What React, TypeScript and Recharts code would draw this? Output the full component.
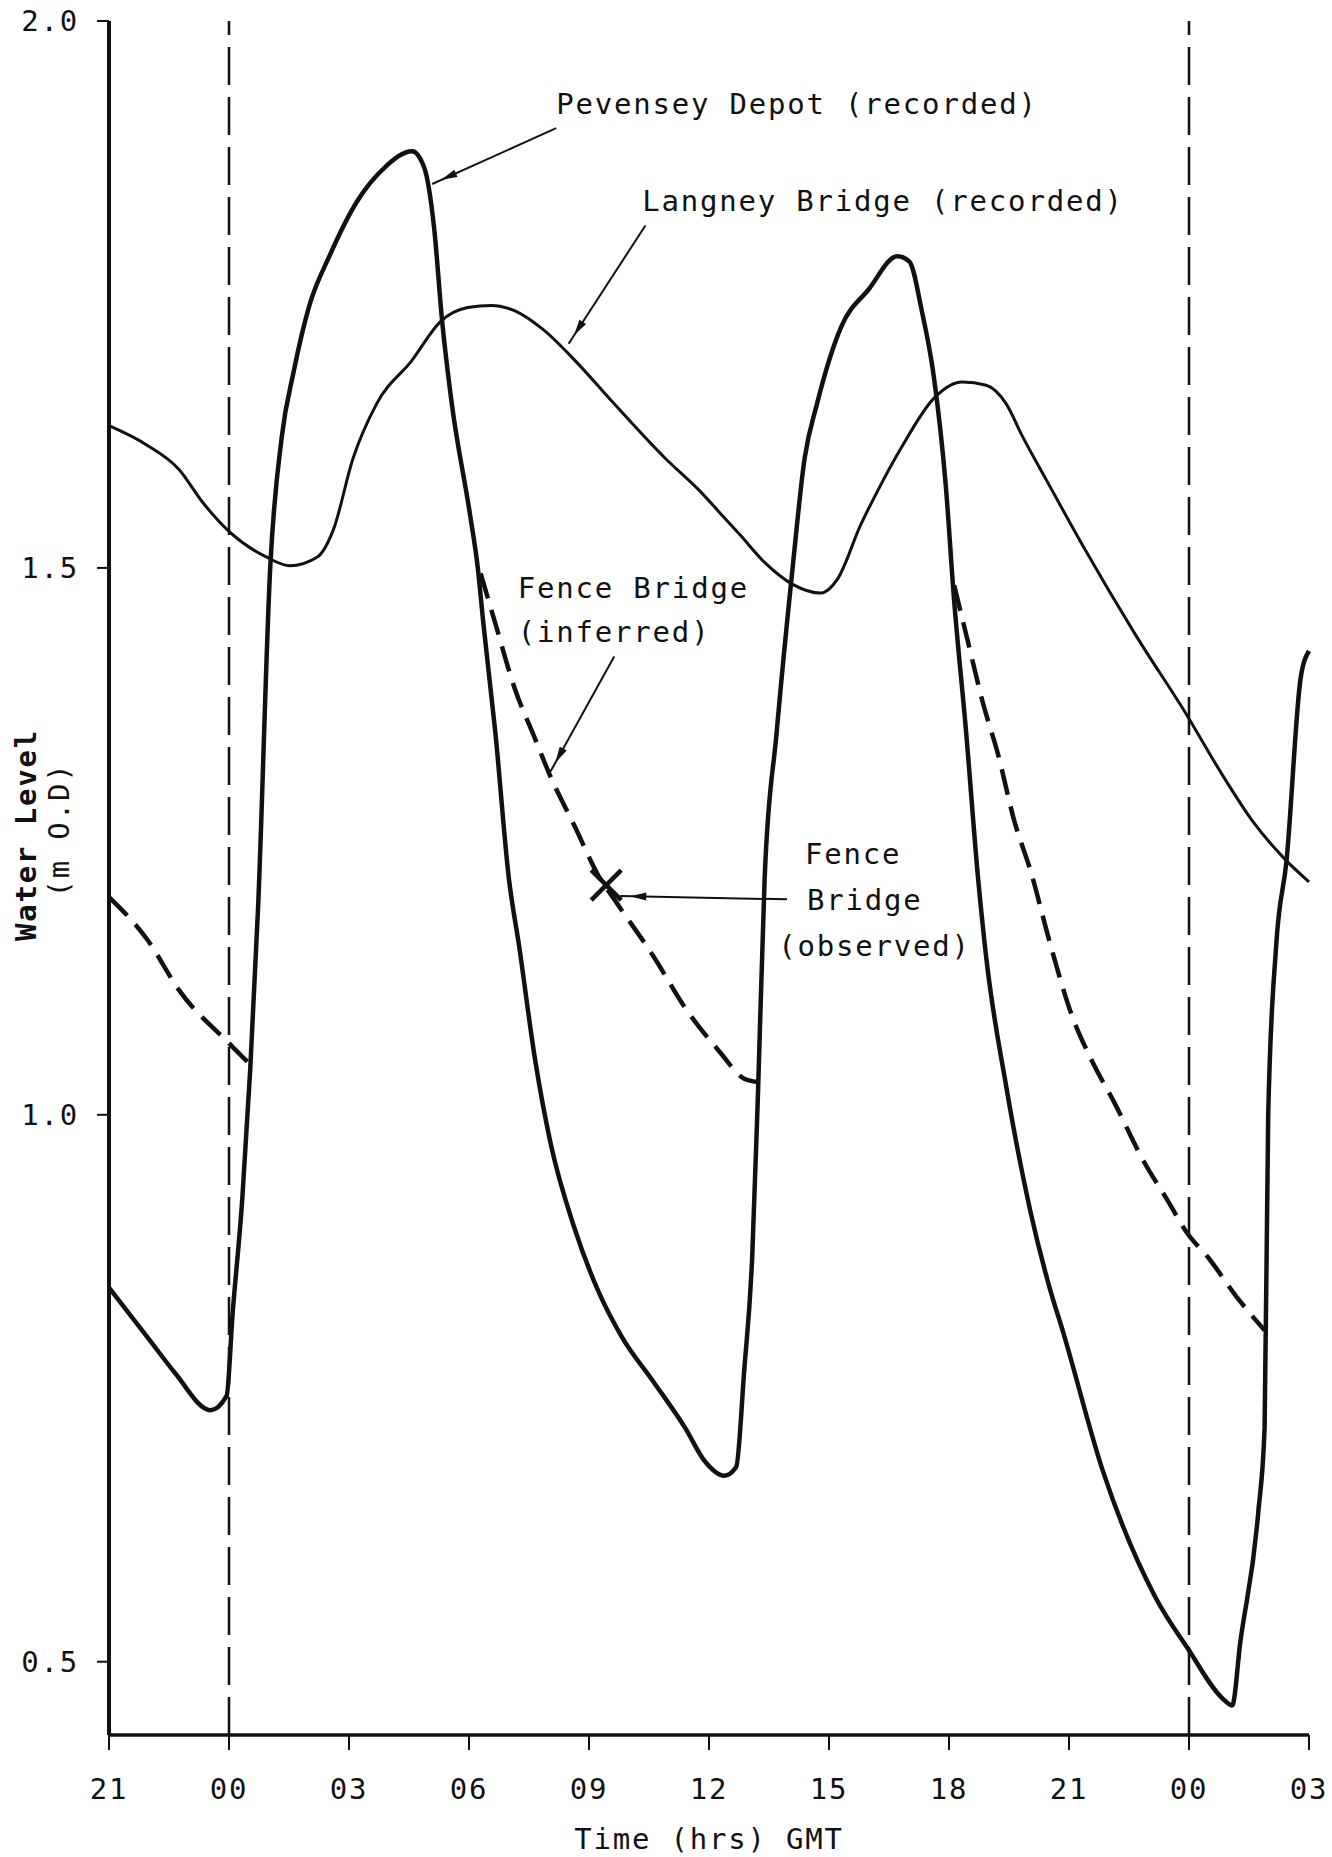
import React from 'react';
import {
  ComposedChart,
  Line,
  Scatter,
  XAxis,
  YAxis,
  ReferenceLine,
  ReferenceDot,
} from 'recharts';

// hours after 21:00 on the first day, water level in m O.D.
const pevenseyDepot: [number, number][] = [
  [0, 0.842], [1.06, 0.792], [1.65, 0.764], [2.54, 0.73], [2.94, 0.743], [3.09, 0.818],
  [3.33, 0.922], [3.53, 1.041], [3.73, 1.192], [4.03, 1.5], [4.32, 1.62], [4.62, 1.68],
  [5.01, 1.74], [5.51, 1.785], [6.2, 1.835], [6.89, 1.866], [7.58, 1.881], [7.88, 1.866],
  [8.13, 1.81], [8.33, 1.725], [8.57, 1.65], [9.02, 1.55], [9.22, 1.5], [9.36, 1.449],
  [9.66, 1.349], [10.0, 1.215], [10.25, 1.155], [10.65, 1.051], [11.04, 0.974], [11.64, 0.896],
  [12.23, 0.839], [12.82, 0.797], [13.61, 0.756], [14.4, 0.714], [14.9, 0.683], [15.38, 0.67],
  [15.68, 0.678], [15.88, 0.766], [16.08, 0.87], [16.23, 1.026], [16.39, 1.215], [16.69, 1.349],
  [17.09, 1.5], [17.39, 1.6], [17.7, 1.65], [18.3, 1.72], [19.0, 1.755], [19.71, 1.785],
  [20.01, 1.78], [20.32, 1.735], [20.62, 1.675], [20.92, 1.575], [21.12, 1.474], [21.43, 1.349],
  [21.73, 1.215], [21.93, 1.144], [22.43, 1.026], [23.04, 0.911], [23.53, 0.84], [23.84, 0.803],
  [24.85, 0.674], [26.16, 0.559], [26.97, 0.512], [27.88, 0.465], [28.08, 0.46], [28.28, 0.517],
  [28.73, 0.636], [28.89, 0.714], [28.98, 1.0], [29.18, 1.155], [29.44, 1.233], [29.79, 1.399],
  [30.0, 1.424],
];

const langneyBridge: [number, number][] = [
  [0, 1.63], [0.96, 1.612], [1.75, 1.59], [2.34, 1.56], [3.04, 1.532], [3.93, 1.51],
  [4.52, 1.502], [5.21, 1.51], [5.61, 1.535], [6.1, 1.6], [6.69, 1.65], [7.58, 1.69],
  [8.28, 1.725], [8.97, 1.738], [9.56, 1.74], [10.15, 1.735], [10.85, 1.718], [11.64, 1.69],
  [12.63, 1.65], [13.91, 1.6], [14.78, 1.57], [15.28, 1.55], [15.78, 1.53], [16.39, 1.505],
  [17.09, 1.485], [17.8, 1.477], [18.2, 1.489], [18.8, 1.54], [19.21, 1.57], [19.81, 1.61],
  [20.62, 1.655], [21.33, 1.67], [21.93, 1.667], [22.43, 1.65], [22.84, 1.62], [23.44, 1.58],
  [24.35, 1.52], [25.66, 1.439], [26.97, 1.364], [27.78, 1.314], [28.58, 1.269], [29.39, 1.234],
  [30.0, 1.213],
];

const fenceInferred1: [number, number][] = [
  [0, 1.199], [0.96, 1.16], [1.75, 1.114], [3.04, 1.064], [3.53, 1.046],
];
const fenceInferred2: [number, number][] = [
  [9.29, 1.495], [9.66, 1.449], [10.15, 1.389], [10.65, 1.344], [11.04, 1.309], [11.64, 1.264],
  [12.23, 1.219], [12.63, 1.197], [13.61, 1.145], [14.4, 1.098], [15.28, 1.057], [15.88, 1.033],
  [16.21, 1.03],
];
const fenceInferred3: [number, number][] = [
  [21.13, 1.484], [21.53, 1.424], [21.83, 1.379], [22.23, 1.329], [22.63, 1.269], [23.04, 1.223],
  [23.54, 1.155], [24.05, 1.093], [24.55, 1.051], [25.15, 1.01], [25.86, 0.958], [26.46, 0.922],
  [26.97, 0.891], [27.47, 0.87], [28.18, 0.834], [28.89, 0.803],
];
const fenceObserved: [number, number][] = [[12.43, 1.21]];

const hourTicks = [0, 3, 6, 9, 12, 15, 18, 21, 24, 27, 30];
const hourLabels = ['21', '00', '03', '06', '09', '12', '15', '18', '21', '00', '03'];
const levelTicks = [0.5, 1.0, 1.5, 2.0];
const midnights = [3, 27];

const notes = [
  { t: 11.18, v: 1.924, text: 'Pevensey Depot (recorded)' },
  { t: 13.33, v: 1.835, text: 'Langney Bridge (recorded)' },
  { t: 10.22, v: 1.482, text: 'Fence Bridge' },
  { t: 10.22, v: 1.441, text: '(inferred)' },
  { t: 17.4, v: 1.238, text: 'Fence' },
  { t: 17.45, v: 1.196, text: 'Bridge' },
  { t: 16.73, v: 1.154, text: '(observed)' },
];

const arrows: { from: [number, number]; to: [number, number] }[] = [
  { from: [11.18, 1.902], to: [8.08, 1.851] },
  { from: [13.41, 1.813], to: [11.49, 1.705] },
  { from: [12.63, 1.419], to: [11.04, 1.314] },
  { from: [16.95, 1.197], to: [12.78, 1.2] },
];

const toPoints = (arr: [number, number][]) => arr.map(([t, v]) => ({ t, v }));

const FONT = 'DejaVu Sans Mono, Liberation Mono, monospace';
const textStyle = { fontFamily: FONT, fontSize: 29, letterSpacing: 1.8, fill: '#111' };

function ArrowShape(props: any) {
  const { x1, y1, x2, y2 } = props;
  const dx = x2 - x1;
  const dy = y2 - y1;
  const len = Math.sqrt(dx * dx + dy * dy) || 1;
  const ux = dx / len;
  const uy = dy / len;
  const tipX = x2 - ux * 10;
  const tipY = y2 - uy * 10;
  const hx = tipX - ux * 16;
  const hy = tipY - uy * 16;
  return (
    <g>
      <line x1={x1} y1={y1} x2={x2} y2={y2} stroke="#111" strokeWidth={2} />
      <polygon
        points={`${tipX},${tipY} ${hx - uy * 4},${hy + ux * 4} ${hx + uy * 4},${hy - ux * 4}`}
        fill="#111"
      />
    </g>
  );
}

function CrossShape(props: any) {
  const { cx, cy } = props;
  const s = 15;
  return (
    <g stroke="#111" strokeWidth={4.5}>
      <line x1={cx - s} y1={cy - s} x2={cx + s} y2={cy + s} />
      <line x1={cx - s} y1={cy + s} x2={cx + s} y2={cy - s} />
    </g>
  );
}

function XTick(props: any) {
  const { x, y, payload } = props;
  const i = hourTicks.indexOf(payload.value);
  return (
    <text x={x} y={y + 37} textAnchor="middle" dominantBaseline="central" style={textStyle}>
      {hourLabels[i]}
    </text>
  );
}

function YTick(props: any) {
  const { x, y, payload } = props;
  return (
    <text x={x - 16} y={y} textAnchor="end" dominantBaseline="central" style={textStyle}>
      {payload.value.toFixed(1)}
    </text>
  );
}

export default function App() {
  const dashedSegments = [fenceInferred1, fenceInferred2, fenceInferred3];
  return (
    <div style={{ position: 'absolute', left: 0, top: 0, width: 1332, height: 1857, background: '#fff' }}>
      <ComposedChart width={1332} height={1857} margin={{ top: 21, right: 23, left: 0, bottom: 0 }}>
        <XAxis
          type="number"
          dataKey="t"
          domain={[0, 30]}
          ticks={hourTicks}
          interval={0}
          height={122}
          tickSize={15}
          stroke="#111"
          axisLine={{ stroke: '#111', strokeWidth: 3.5 }}
          tickLine={{ stroke: '#111', strokeWidth: 2 }}
          tick={<XTick />}
          label={{
            content: (p: any) => {
              const vb = p.viewBox || { x: 109, y: 1735, width: 1200 };
              return (
                <text x={vb.x + vb.width / 2} y={vb.y + 104} textAnchor="middle" dominantBaseline="central" style={textStyle}>
                  Time (hrs) GMT
                </text>
              );
            },
          }}
        />
        <YAxis
          type="number"
          dataKey="v"
          domain={[0.433, 2.0]}
          ticks={levelTicks}
          interval={0}
          width={109}
          tickSize={12}
          allowDataOverflow
          axisLine={{ stroke: '#111', strokeWidth: 4 }}
          tickLine={{ stroke: '#111', strokeWidth: 2 }}
          tick={<YTick />}
          label={{
            content: (p: any) => {
              const vb = p.viewBox || { x: 0, y: 21 };
              const ax = vb.x + 26;
              const ay = vb.y + 814;
              const bx = vb.x + 59;
              const by = vb.y + 809;
              return (
                <g>
                  <text x={ax} y={ay} transform={`rotate(-90 ${ax} ${ay})`} textAnchor="middle" dominantBaseline="central" style={{ ...textStyle, fontWeight: 'bold' }}>
                    Water Level
                  </text>
                  <text x={bx} y={by} transform={`rotate(-90 ${bx} ${by})`} textAnchor="middle" dominantBaseline="central" style={textStyle}>
                    (m O.D)
                  </text>
                </g>
              );
            },
          }}
        />
        {midnights.map((m) => (
          <ReferenceLine key={m} x={m} stroke="#111" strokeWidth={2.5} strokeDasharray="38 12" />
        ))}
        <Line
          data={toPoints(langneyBridge)}
          dataKey="v"
          type="monotone"
          stroke="#111"
          strokeWidth={3}
          dot={false}
          activeDot={false}
          isAnimationActive={false}
        />
        <Line
          data={toPoints(pevenseyDepot)}
          dataKey="v"
          type="monotone"
          stroke="#111"
          strokeWidth={4.5}
          dot={false}
          activeDot={false}
          isAnimationActive={false}
        />
        {dashedSegments.map((seg, i) => (
          <Line
            key={i}
            data={toPoints(seg)}
            dataKey="v"
            type="monotone"
            stroke="#111"
            strokeWidth={4.5}
            strokeDasharray="26 12"
            dot={false}
            activeDot={false}
            isAnimationActive={false}
          />
        ))}
        <Scatter data={toPoints(fenceObserved)} dataKey="v" shape={<CrossShape />} isAnimationActive={false} />
        {arrows.map((a, i) => (
          <ReferenceLine
            key={i}
            segment={[{ x: a.from[0], y: a.from[1] }, { x: a.to[0], y: a.to[1] }]}
            shape={<ArrowShape />}
          />
        ))}
        {notes.map((n, i) => (
          <ReferenceDot
            key={i}
            x={n.t}
            y={n.v}
            r={0}
            shape={(p: any) => (
              <text x={p.cx} y={p.cy} dominantBaseline="central" style={textStyle}>
                {n.text}
              </text>
            )}
          />
        ))}
      </ComposedChart>
    </div>
  );
}
